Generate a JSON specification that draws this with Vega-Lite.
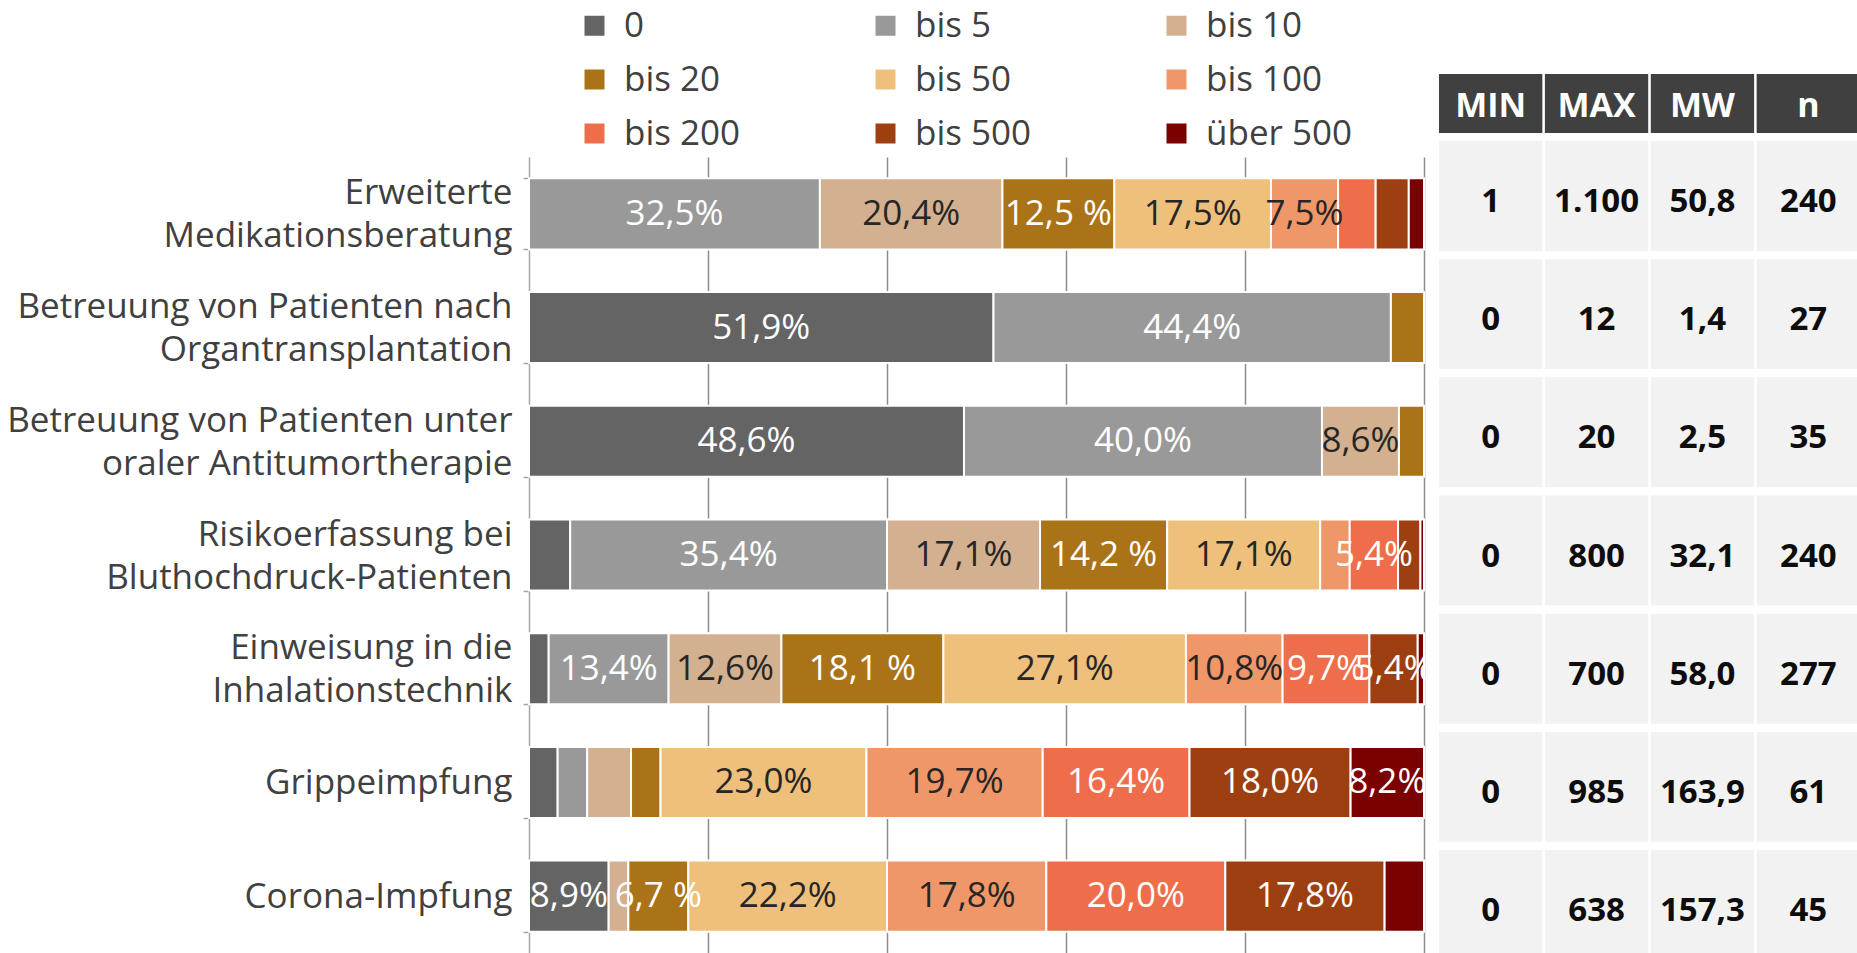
{
  "$schema": "https://vega.github.io/schema/vega-lite/v6.json",
  "autosize": {"type": "none"},
  "padding": {"left": 529, "top": 157, "right": 0, "bottom": 0},
  "width": 1328,
  "height": 796,
  "background": "white",
  "config": {"font": "Open Sans", "view": {"stroke": null}},
  "datasets": {
    "anteile": [
      {"activity": "Erweiterte\nMedikationsberatung", "cat": "bis 5", "pct": 32.5, "label": "32,5%"},
      {"activity": "Erweiterte\nMedikationsberatung", "cat": "bis 10", "pct": 20.4, "label": "20,4%"},
      {"activity": "Erweiterte\nMedikationsberatung", "cat": "bis 20", "pct": 12.5, "label": "12,5 %"},
      {"activity": "Erweiterte\nMedikationsberatung", "cat": "bis 50", "pct": 17.5, "label": "17,5%"},
      {"activity": "Erweiterte\nMedikationsberatung", "cat": "bis 100", "pct": 7.5, "label": "7,5%"},
      {"activity": "Erweiterte\nMedikationsberatung", "cat": "bis 200", "pct": 4.2, "label": ""},
      {"activity": "Erweiterte\nMedikationsberatung", "cat": "bis 500", "pct": 3.7, "label": ""},
      {"activity": "Erweiterte\nMedikationsberatung", "cat": "über 500", "pct": 1.7, "label": ""},
      {"activity": "Betreuung von Patienten nach\nOrgantransplantation", "cat": "0", "pct": 51.9, "label": "51,9%"},
      {"activity": "Betreuung von Patienten nach\nOrgantransplantation", "cat": "bis 5", "pct": 44.4, "label": "44,4%"},
      {"activity": "Betreuung von Patienten nach\nOrgantransplantation", "cat": "bis 20", "pct": 3.7, "label": ""},
      {"activity": "Betreuung von Patienten unter\noraler Antitumortherapie", "cat": "0", "pct": 48.6, "label": "48,6%"},
      {"activity": "Betreuung von Patienten unter\noraler Antitumortherapie", "cat": "bis 5", "pct": 40.0, "label": "40,0%"},
      {"activity": "Betreuung von Patienten unter\noraler Antitumortherapie", "cat": "bis 10", "pct": 8.6, "label": "8,6%"},
      {"activity": "Betreuung von Patienten unter\noraler Antitumortherapie", "cat": "bis 20", "pct": 2.8, "label": ""},
      {"activity": "Risikoerfassung bei\nBluthochdruck-Patienten", "cat": "0", "pct": 4.6, "label": ""},
      {"activity": "Risikoerfassung bei\nBluthochdruck-Patienten", "cat": "bis 5", "pct": 35.4, "label": "35,4%"},
      {"activity": "Risikoerfassung bei\nBluthochdruck-Patienten", "cat": "bis 10", "pct": 17.1, "label": "17,1%"},
      {"activity": "Risikoerfassung bei\nBluthochdruck-Patienten", "cat": "bis 20", "pct": 14.2, "label": "14,2 %"},
      {"activity": "Risikoerfassung bei\nBluthochdruck-Patienten", "cat": "bis 50", "pct": 17.1, "label": "17,1%"},
      {"activity": "Risikoerfassung bei\nBluthochdruck-Patienten", "cat": "bis 100", "pct": 3.3, "label": ""},
      {"activity": "Risikoerfassung bei\nBluthochdruck-Patienten", "cat": "bis 200", "pct": 5.4, "label": "5,4%"},
      {"activity": "Risikoerfassung bei\nBluthochdruck-Patienten", "cat": "bis 500", "pct": 2.5, "label": ""},
      {"activity": "Risikoerfassung bei\nBluthochdruck-Patienten", "cat": "über 500", "pct": 0.4, "label": ""},
      {"activity": "Einweisung in die\nInhalationstechnik", "cat": "0", "pct": 2.2, "label": ""},
      {"activity": "Einweisung in die\nInhalationstechnik", "cat": "bis 5", "pct": 13.4, "label": "13,4%"},
      {"activity": "Einweisung in die\nInhalationstechnik", "cat": "bis 10", "pct": 12.6, "label": "12,6%"},
      {"activity": "Einweisung in die\nInhalationstechnik", "cat": "bis 20", "pct": 18.1, "label": "18,1 %"},
      {"activity": "Einweisung in die\nInhalationstechnik", "cat": "bis 50", "pct": 27.1, "label": "27,1%"},
      {"activity": "Einweisung in die\nInhalationstechnik", "cat": "bis 100", "pct": 10.8, "label": "10,8%"},
      {"activity": "Einweisung in die\nInhalationstechnik", "cat": "bis 200", "pct": 9.7, "label": "9,7%"},
      {"activity": "Einweisung in die\nInhalationstechnik", "cat": "bis 500", "pct": 5.4, "label": "5,4%"},
      {"activity": "Einweisung in die\nInhalationstechnik", "cat": "über 500", "pct": 0.7, "label": ""},
      {"activity": "Grippeimpfung", "cat": "0", "pct": 3.2, "label": ""},
      {"activity": "Grippeimpfung", "cat": "bis 5", "pct": 3.3, "label": ""},
      {"activity": "Grippeimpfung", "cat": "bis 10", "pct": 4.9, "label": ""},
      {"activity": "Grippeimpfung", "cat": "bis 20", "pct": 3.3, "label": ""},
      {"activity": "Grippeimpfung", "cat": "bis 50", "pct": 23.0, "label": "23,0%"},
      {"activity": "Grippeimpfung", "cat": "bis 100", "pct": 19.7, "label": "19,7%"},
      {"activity": "Grippeimpfung", "cat": "bis 200", "pct": 16.4, "label": "16,4%"},
      {"activity": "Grippeimpfung", "cat": "bis 500", "pct": 18.0, "label": "18,0%"},
      {"activity": "Grippeimpfung", "cat": "über 500", "pct": 8.2, "label": "8,2%"},
      {"activity": "Corona-Impfung", "cat": "0", "pct": 8.9, "label": "8,9%"},
      {"activity": "Corona-Impfung", "cat": "bis 10", "pct": 2.2, "label": ""},
      {"activity": "Corona-Impfung", "cat": "bis 20", "pct": 6.7, "label": "6,7 %"},
      {"activity": "Corona-Impfung", "cat": "bis 50", "pct": 22.2, "label": "22,2%"},
      {"activity": "Corona-Impfung", "cat": "bis 100", "pct": 17.8, "label": "17,8%"},
      {"activity": "Corona-Impfung", "cat": "bis 200", "pct": 20.0, "label": "20,0%"},
      {"activity": "Corona-Impfung", "cat": "bis 500", "pct": 17.8, "label": "17,8%"},
      {"activity": "Corona-Impfung", "cat": "über 500", "pct": 4.4, "label": ""}
    ],
    "tabelle": [
      {"activity": "Erweiterte\nMedikationsberatung", "MIN": "1", "MAX": "1.100", "MW": "50,8", "n": "240"},
      {"activity": "Betreuung von Patienten nach\nOrgantransplantation", "MIN": "0", "MAX": "12", "MW": "1,4", "n": "27"},
      {"activity": "Betreuung von Patienten unter\noraler Antitumortherapie", "MIN": "0", "MAX": "20", "MW": "2,5", "n": "35"},
      {"activity": "Risikoerfassung bei\nBluthochdruck-Patienten", "MIN": "0", "MAX": "800", "MW": "32,1", "n": "240"},
      {"activity": "Einweisung in die\nInhalationstechnik", "MIN": "0", "MAX": "700", "MW": "58,0", "n": "277"},
      {"activity": "Grippeimpfung", "MIN": "0", "MAX": "985", "MW": "163,9", "n": "61"},
      {"activity": "Corona-Impfung", "MIN": "0", "MAX": "638", "MW": "157,3", "n": "45"}
    ],
    "kopf": [
      {"col": "MIN", "part": "Kopf"},
      {"col": "MAX", "part": "Kopf"},
      {"col": "MW", "part": "Kopf"},
      {"col": "n", "part": "Kopf"}
    ]
  },
  "layer": [
    {
      "data": {"name": "anteile"},
      "transform": [
        {"calculate": "indexof(['0','bis 5','bis 10','bis 20','bis 50','bis 100','bis 200','bis 500','über 500'], datum.cat)", "as": "k"},
        {"stack": "pct", "groupby": ["activity"], "sort": [{"field": "k", "order": "ascending"}], "as": ["x0", "x1"]},
        {"calculate": "(datum.x0 + datum.x1) / 2", "as": "mid"}
      ],
      "encoding": {
        "y": {
          "field": "activity", "type": "nominal", "sort": null,
          "scale": {
            "domain": ["Erweiterte\nMedikationsberatung", "Betreuung von Patienten nach\nOrgantransplantation", "Betreuung von Patienten unter\noraler Antitumortherapie", "Risikoerfassung bei\nBluthochdruck-Patienten", "Einweisung in die\nInhalationstechnik", "Grippeimpfung", "Corona-Impfung"],
            "paddingInner": 0.375, "paddingOuter": 0.1875
          },
          "axis": {
            "title": null,
            "labelExpr": "datum.value ? split(datum.value, '\\n') : ''",
            "labelOffset": {"condition": {"test": "datum.value && indexof(datum.value, '\\n') >= 0", "value": -21}, "value": 0},
            "labelFont": "Open Sans", "labelFontSize": 35, "labelColor": "#404040",
            "labelLineHeight": 43, "labelPadding": 11, "labelLimit": 0,
            "tickBand": "extent", "tickSize": 6, "tickColor": "#a6a6a6", "tickWidth": 1.5,
            "domainColor": "#a6a6a6", "domainWidth": 1.5
          }
        }
      },
      "layer": [
        {
          "mark": {"type": "bar", "stroke": "white", "strokeWidth": 2},
          "encoding": {
            "x": {
              "field": "x0", "type": "quantitative",
              "scale": {"domain": [0, 100], "range": [0, 895], "nice": false},
              "axis": {"title": null, "labels": false, "ticks": false, "domain": false, "grid": true, "values": [20, 40, 60, 80, 100], "gridColor": "#8c8c8c", "gridWidth": 1.5}
            },
            "x2": {"field": "x1"},
            "color": {
              "field": "cat", "type": "nominal",
              "sort": ["0", "bis 5", "bis 10", "bis 20", "bis 50", "bis 100", "bis 200", "bis 500", "über 500"],
              "scale": {
                "domain": ["0", "bis 5", "bis 10", "bis 20", "bis 50", "bis 100", "bis 200", "bis 500", "über 500"],
                "range": ["#646464", "#999999", "#d3b08f", "#ab7318", "#eec07c", "#f0976a", "#ee6e4b", "#9e3f11", "#7b0000"]
              },
              "legend": {
                "orient": "none", "legendX": 48, "legendY": -149, "columns": 3, "direction": "horizontal",
                "title": null, "padding": 0, "gridAlign": "all",
                "symbolType": "square", "symbolSize": 400, "symbolStrokeWidth": 0,
                "labelFont": "Open Sans", "labelFontSize": 35, "labelColor": "#404040", "labelOffset": 12, "labelLimit": 0,
                "columnPadding": 98, "rowPadding": 18
              }
            }
          }
        },
        {
          "mark": {"type": "text", "font": "Open Sans", "fontSize": 35, "baseline": "middle", "align": "center"},
          "encoding": {
            "x": {"field": "mid", "type": "quantitative"},
            "text": {"field": "label"},
            "color": {
              "condition": {"test": "indexof(['bis 10','bis 50','bis 100'], datum.cat) >= 0", "value": "#262626"},
              "value": "white"
            }
          }
        }
      ]
    },
    {
      "data": {"name": "tabelle"},
      "transform": [{"fold": ["MIN", "MAX", "MW", "n"], "as": ["col", "value"]}],
      "encoding": {
        "x": {
          "field": "col", "type": "nominal", "sort": null,
          "scale": {"domain": ["MIN", "MAX", "MW", "n"], "range": [910, 1331], "paddingInner": 0.024, "paddingOuter": 0},
          "axis": null
        },
        "y": {
          "field": "activity", "type": "nominal", "sort": null,
          "scale": {
            "domain": ["Erweiterte\nMedikationsberatung", "Betreuung von Patienten nach\nOrgantransplantation", "Betreuung von Patienten unter\noraler Antitumortherapie", "Risikoerfassung bei\nBluthochdruck-Patienten", "Einweisung in die\nInhalationstechnik", "Grippeimpfung", "Corona-Impfung"],
            "range": [-16, 803], "paddingInner": 0.07, "paddingOuter": 0
          },
          "axis": null
        }
      },
      "layer": [
        {"mark": {"type": "rect", "color": "#f2f2f2"}},
        {
          "mark": {"type": "text", "font": "Open Sans", "fontWeight": "bold", "fontSize": 33, "color": "#0d0d0d", "baseline": "middle", "dy": 6},
          "encoding": {"text": {"field": "value"}}
        }
      ]
    },
    {
      "data": {"name": "kopf"},
      "encoding": {
        "x": {
          "field": "col", "type": "nominal", "sort": null,
          "scale": {"domain": ["MIN", "MAX", "MW", "n"], "range": [910, 1331], "paddingInner": 0.024, "paddingOuter": 0},
          "axis": null
        },
        "y": {
          "field": "part", "type": "nominal",
          "scale": {"domain": ["Kopf"], "range": [-83, -24], "paddingInner": 0, "paddingOuter": 0},
          "axis": null
        }
      },
      "layer": [
        {"mark": {"type": "rect", "color": "#404040"}},
        {
          "mark": {"type": "text", "font": "Open Sans", "fontWeight": "bold", "fontSize": 34, "color": "white", "baseline": "middle", "dy": 3},
          "encoding": {"text": {"field": "col"}}
        }
      ]
    }
  ],
  "resolve": {"scale": {"x": "independent", "y": "independent"}}
}
